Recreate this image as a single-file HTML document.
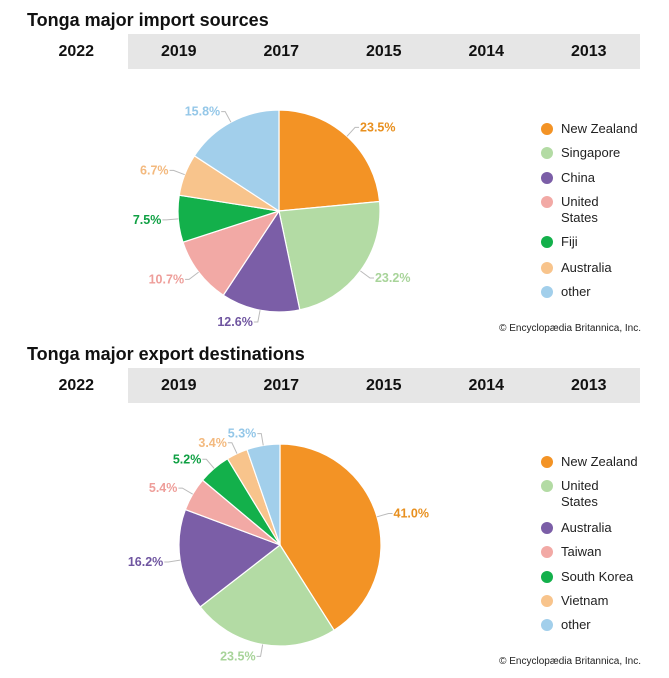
<!DOCTYPE html>
<html><head><meta charset="utf-8">
<style>
body{margin:0;background:#fff;width:669px;height:678px;overflow:hidden;font-family:"Liberation Sans",Arial,sans-serif;position:relative}
.title{position:absolute;left:27px;font-weight:bold;font-size:18px;color:#111}
.tabs{position:absolute;left:25px;width:615px;height:35px;background:#e6e6e6;display:flex}
.tab{flex:1;text-align:center;line-height:35px;font-weight:bold;font-size:16px;color:#111}
.tab.sel{background:#fff}
.legend{position:absolute;left:541px;font-size:13px;color:#222}
.li{position:absolute;left:0;white-space:nowrap;line-height:16px}
.dot{position:absolute;left:0;width:12px;height:12px;border-radius:50%;margin-top:2px}
.lt{position:absolute;left:20px}
.copy{position:absolute;right:28px;font-size:10px;color:#222}
svg{position:absolute;left:0;top:0}
</style></head><body>
<div class="title" style="top:10px">Tonga major import sources</div>
<div class="tabs" style="top:34px">
<div class="tab sel">2022</div><div class="tab">2019</div><div class="tab">2017</div><div class="tab">2015</div><div class="tab">2014</div><div class="tab">2013</div></div>
<div class="title" style="top:344px">Tonga major export destinations</div>
<div class="tabs" style="top:368px">
<div class="tab sel">2022</div><div class="tab">2019</div><div class="tab">2017</div><div class="tab">2015</div><div class="tab">2014</div><div class="tab">2013</div></div>
<div class="copy" style="top:323px">© Encyclopædia Britannica, Inc.</div>
<div class="copy" style="top:656px">© Encyclopædia Britannica, Inc.</div>
<div class="legend" id="leg1" style="top:0"></div>
<div class="legend" id="leg2" style="top:0"></div>
<svg id="svg" width="669" height="678"></svg>
<script>
const importCategories=["New Zealand","Singapore","China","United States","Fiji","Australia","other"];
const importValues=[23.5,23.2,12.6,10.7,7.5,6.7,15.8];
const importLegendTops=[121,145,170,194,234,260,284];
const exportCategories=["New Zealand","United States","Australia","Taiwan","South Korea","Vietnam","other"];
const exportValues=[41.0,23.5,16.2,5.4,5.2,3.4,5.3];
const exportLegendTops=[454,478,520,544,569,593,617];
const colors=["#f39325","#b3dba4","#7b5ea7","#f2a9a5","#13b04b","#f8c48c","#a2cfeb"];
const labelColors=["#e8901f","#a8d49a","#6f55a0","#ee9e9a","#0fa043","#f3b97e","#94c7e8"];
const NS="http://www.w3.org/2000/svg";
const svg=document.getElementById('svg');
function pie(cx,cy,r,vals,cats,legId,legTops,pfx){
  const tot=vals.reduce((a,b)=>a+b,0);let a0=-Math.PI/2;
  vals.forEach((v,i)=>{
    const a1=a0+v/tot*2*Math.PI;
    const x0=cx+r*Math.cos(a0),y0=cy+r*Math.sin(a0),x1=cx+r*Math.cos(a1),y1=cy+r*Math.sin(a1);
    const p=document.createElementNS(NS,'path');
    p.setAttribute('d',`M${cx},${cy}L${x0},${y0}A${r},${r} 0 ${a1-a0>Math.PI?1:0} 1 ${x1},${y1}Z`);
    p.setAttribute('fill',colors[i]);p.setAttribute('stroke','#fff');p.setAttribute('stroke-width','1.2');
    
    
    svg.appendChild(p);
    const am=(a0+a1)/2,c=Math.cos(am),s=Math.sin(am);
    const ln=document.createElementNS(NS,'polyline');
    const lx=cx+(r+12)*c,ly=cy+(r+12)*s;
    ln.setAttribute('points',`${cx+r*c},${cy+r*s} ${lx},${ly} ${lx+(c>=0?4:-4)},${ly}`);
    ln.setAttribute('stroke','#bbb');ln.setAttribute('fill','none');
    svg.appendChild(ln);
    const t=document.createElementNS(NS,'text');
    t.setAttribute('x',lx+(c>=0?5:-5));t.setAttribute('y',ly+4);
    t.setAttribute('text-anchor',c>=0?'start':'end');
    t.setAttribute('font-size','12.5');t.setAttribute('font-weight','bold');t.setAttribute('fill',labelColors[i]);
    t.setAttribute('font-family','Liberation Sans, sans-serif');
    t.textContent=v.toFixed(1)+'%';
    
    
    svg.appendChild(t);
    a0=a1;
  });
  const leg=document.getElementById(legId);
  cats.forEach((c,i)=>{
    const d=document.createElement('div');d.className='li';d.style.top=legTops[i]+'px';
    
    
    d.innerHTML=`<span class="dot" style="background:${colors[i]}"></span><span class="lt">${c.replace('United States','United<br>States')}</span>`;
    leg.appendChild(d);
  });
}
pie(279,211,101,importValues,importCategories,'leg1',importLegendTops,'import');
pie(280,545,101,exportValues,exportCategories,'leg2',exportLegendTops,'export');
</script>
</body></html>
